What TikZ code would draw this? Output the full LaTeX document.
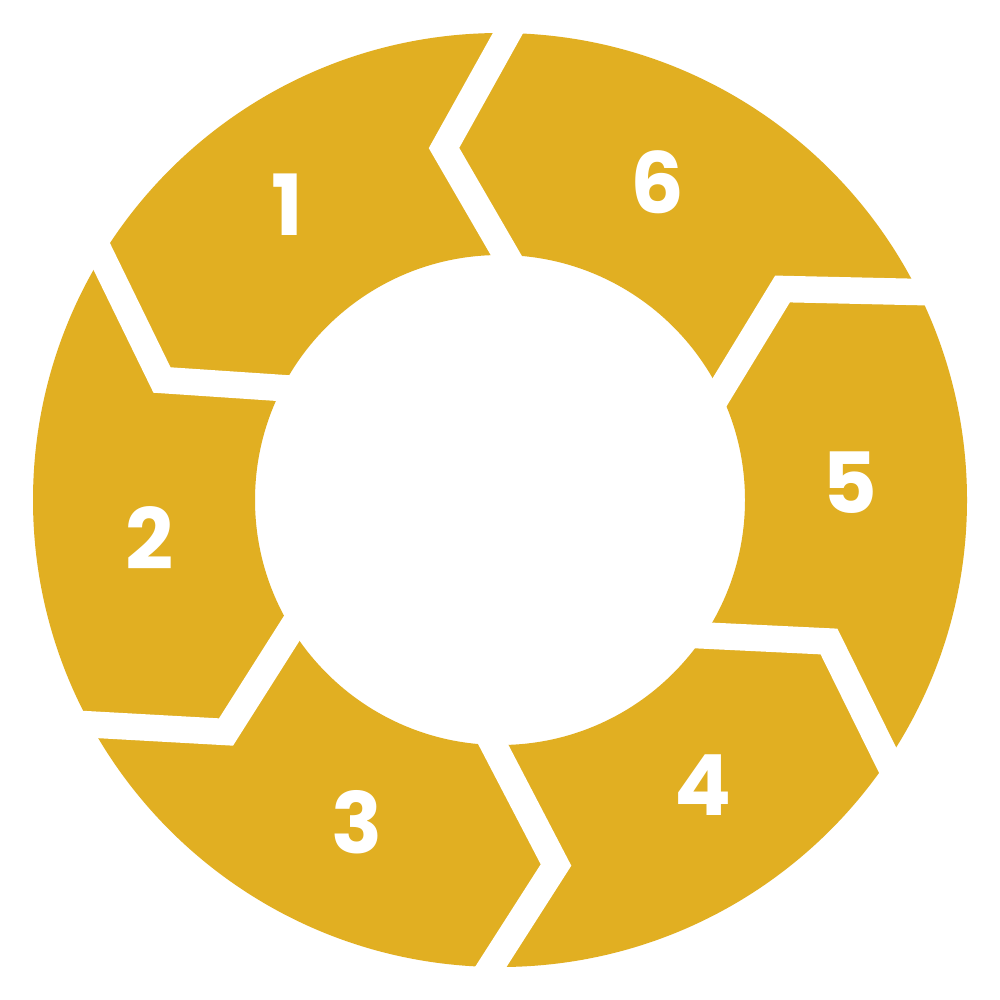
\documentclass[tikz,border=0pt]{standalone}
\usepackage{fontspec}
\setmainfont{Poppins}
\usetikzlibrary{calc}
\definecolor{ringgold}{RGB}{225,175,34}
\tikzset{
  gap/.style={draw=white, line width=0.265cm, line join=miter, miter limit=10},
  digit/.style={text=white, font=\fontsize{24}{24}\selectfont\bfseries}
}
\begin{document}
\begin{tikzpicture}[x=0.01cm, y=-0.01cm]
            \useasboundingbox (0,0) rectangle (1000,1000);
            \fill[white] (0,0) rectangle (1000,1000);

            % ring
            \fill[ringgold, even odd rule] (500,500) circle[radius=467] (500,500) circle[radius=245];

            % 6-1
            \coordinate (o61) at (508,33);
            \coordinate (t61) at (444,148);
            \coordinate (i61) at (506,255);
            \draw[gap] ($(t61)!1.3!(o61)$) -- (t61) -- ($(t61)!1.3!(i61)$);

            % 1-2
            \coordinate (o12) at (101.5,256);
            \coordinate (t12) at (162,380);
            \coordinate (i12) at (281.5,388);
            \draw[gap] ($(t12)!1.3!(o12)$) -- (t12) -- ($(t12)!1.3!(i12)$);

            % 2-3
            \coordinate (o23) at (91,724.5);
            \coordinate (t23) at (226,732);
            \coordinate (i23) at (291,629.5);
            \draw[gap] ($(t23)!1.3!(o23)$) -- (t23) -- ($(t23)!1.3!(i23)$);

            % 3-4
            \coordinate (o34) at (492,965);
            \coordinate (t34) at (556,865);
            \coordinate (i34) at (493,744);
            \draw[gap] ($(t34)!1.3!(o34)$) -- (t34) -- ($(t34)!1.3!(i34)$);

            % 4-5
            \coordinate (o45) at (887.5,760);
            \coordinate (t45) at (829,641.5);
            \coordinate (i45) at (704.5,635.5);
            \draw[gap] ($(t45)!1.3!(o45)$) -- (t45) -- ($(t45)!1.3!(i45)$);

            % 5-6
            \coordinate (o56) at (918,292);
            \coordinate (t56) at (782.5,289);
            \coordinate (i56) at (720,391.5);
            \draw[gap] ($(t56)!1.3!(o56)$) -- (t56) -- ($(t56)!1.3!(i56)$);

            \node[digit] (n1) at (287,205) {1};
            \node[digit] (n2) at (150,538) {2};
            \node[digit] (n3) at (357,822) {3};
            \node[digit] (n4) at (703,785) {4};
            \node[digit] (n5) at (850,483) {5};
            \node[digit] (n6) at (657,182) {6};
        \end{tikzpicture}
\end{document}
